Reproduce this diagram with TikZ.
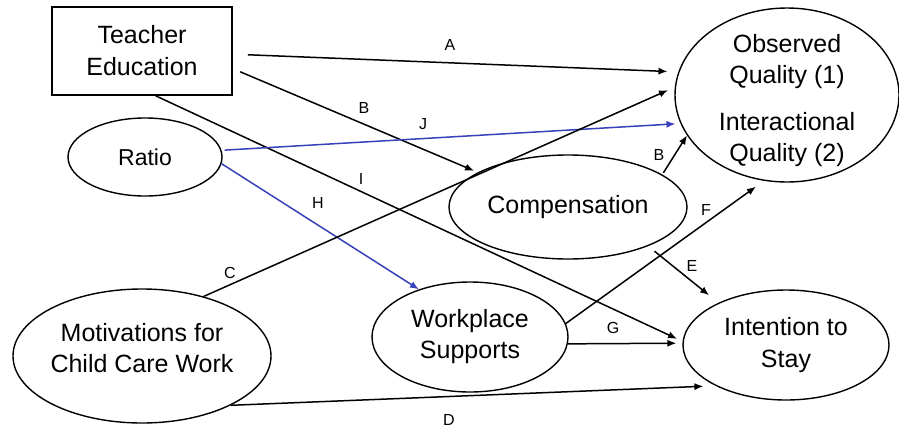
\documentclass[tikz,border=0pt]{standalone}
\usepackage{fontspec}
\setmainfont{Liberation Sans}
\usetikzlibrary{arrows.meta,shapes.geometric}
\definecolor{ratioblue}{RGB}{55,65,185}

\tikzset{
  box/.style={draw, line width=0.8pt, rectangle, minimum width=90pt, minimum height=44pt,
    inner sep=0pt, align=center, font=\fontsize{12.5}{16}\selectfont},
  oval/.style={draw, line width=0.7pt, ellipse, inner sep=-4pt, align=center,
    font=\fontsize{12.5}{15.5}\selectfont},
  lbl/.style={font=\fontsize{8}{9}\selectfont, inner sep=0pt},
  link/.style={line width=0.75pt, -{Latex[length=4.5pt,width=3.6pt]}},
  bluelink/.style={link, draw=ratioblue, -{Latex[length=4.5pt,width=3.6pt,fill=ratioblue]}},
}

\begin{document}
\begin{tikzpicture}[x=0.5pt, y=-0.5pt]
\useasboundingbox (0,0) rectangle (899,429);

% constructs
\node[box] (teach) at (142,51) {Teacher\\Education};
\node[oval, minimum width=77pt, minimum height=39pt, font=\fontsize{11.5}{14}\selectfont] (ratio) at (145,157) {Ratio};
\node[oval, minimum width=129pt, minimum height=67pt] (motiv) at (142,356)
  {\raisebox{2.7pt}[\height][\depth]{\begin{tabular}{@{}c@{}}Motivations for\\Child Care Work\end{tabular}}};
\node[oval, minimum width=119pt, minimum height=52pt] (comp) at (568,207) {Compensation};
\node[oval, minimum width=98pt, minimum height=55pt] (work) at (470,337) {Workplace\\Supports};
\node[oval, minimum width=112pt, minimum height=87pt, inner ysep=-14pt] (qual) at (787,95)
  {\raisebox{-3pt}[\height][\depth]{\begin{tabular}{@{}c@{}}Observed\\Quality (1)\\[8pt]Interactional\\Quality (2)\end{tabular}}};
\node[oval, minimum width=103pt, minimum height=55pt, font=\fontsize{12.5}{16}\selectfont] (stay) at (786,345) {Intention to\\Stay};

% paths
\draw[link, shorten <=7.5pt, shorten >=5.4pt] (teach.-2) -- (qual.168.6);
\draw[link, shorten <=4pt, shorten >=2pt] (teach.-11.5) -- (comp.159.8);
\draw[link, shorten >=3pt] (teach.-73.5) -- (stay.178.9);
\draw[bluelink, shorten <=1.5pt, shorten >=2.5pt] (ratio.5.7) -- (qual.195.7);
\draw[bluelink] (ratio.-5.9) -- (work.137.9);
\draw[link, shorten >=3.7pt] (motiv.44) -- (qual.176.2);
\draw[link, shorten >=6pt] (motiv.-29.5) -- (stay.210.8);
\draw[link, shorten <=1pt] (comp.19.9) -- (qual.202.3);
\draw[link, shorten <=4pt, shorten >=6pt] (comp.-26.8) -- (stay.148.4);
\draw[link, shorten >=5pt] (work.8.8) -- (qual.255.3);
\draw[link, shorten >=3pt] (work.-4.1) -- (stay.179.5);

% path labels
\node[lbl] (lA) at (450,45) {A};
\node[lbl] (lB1) at (364,108) {B};
\node[lbl] (lJ) at (423,124) {J};
\node[lbl] (lI) at (361,179) {I};
\node[lbl] (lH) at (318,203) {H};
\node[lbl] (lC) at (230,273) {C};
\node[lbl] (lB2) at (659,155) {B};
\node[lbl] (lF) at (706,210) {F};
\node[lbl] (lE) at (692,266) {E};
\node[lbl] (lG) at (613,328) {G};
\node[lbl] (lD) at (449,420) {D};
\end{tikzpicture}
\end{document}
